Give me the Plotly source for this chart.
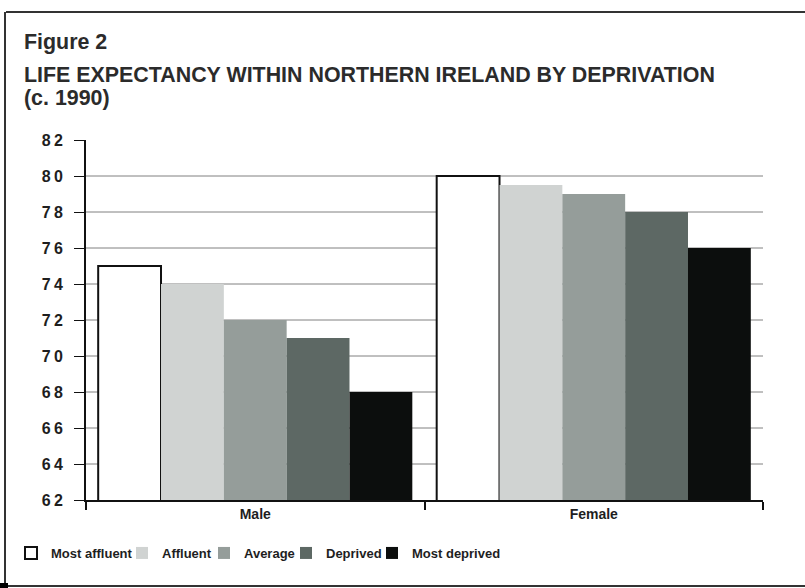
import plotly.graph_objects as go

# ---- data ----
categories = ["Male", "Female"]
series_names = ["Most affluent", "Affluent", "Average", "Deprived", "Most deprived"]
most_affluent = [75, 80]
affluent = [74, 79.5]
average = [72, 79]
deprived = [71, 78]
most_deprived = [68, 76]
y_ticks = [62, 64, 66, 68, 70, 72, 74, 76, 78, 80, 82]
grid_values = [64, 66, 68, 70, 72, 74, 76, 78, 80]

series_values = [most_affluent, affluent, average, deprived, most_deprived]
colors = ["#FFFFFF", "#D0D3D2", "#959D9A", "#5D6864", "#0C0E0D"]
legend_symbol_px = [31, 142, 224, 306, 392]   # legend entry positions (pixels)

W, H = 805, 588
L, R, T, B = 86, 42, 140, 88
PW = W - L - R
PH = H - T - B

def px_x(px):
    return (px - L) / PW

def px_y(py):
    return (H - B - py) / PH

TXT = "#1e1e1e"
BASE_FONT = "Liberation Sans, Arial, sans-serif"

fig = go.Figure()
legend_ids = ["legend", "legend2", "legend3", "legend4", "legend5"]
for name, vals, col, lid in zip(series_names, series_values, colors, legend_ids):
    fig.add_trace(go.Bar(
        name=name, x=categories, y=vals, legend=lid,
        marker=dict(color=col,
                    line=dict(color="#111111" if col == "#FFFFFF" else col,
                              width=2 if col == "#FFFFFF" else 0)),
    ))

def spaced(s):
    return "\u2009".join(list(s))

legend_layouts = {}
for lid, sx in zip(legend_ids, legend_symbol_px):
    legend_layouts[lid] = dict(
        orientation="h", x=px_x(sx - 20), xanchor="left",
        y=px_y(553), yanchor="middle",
        font=dict(family=BASE_FONT, size=13, color=TXT, weight="bold"),
        bgcolor="rgba(0,0,0,0)", itemclick=False)

fig.update_layout(
    width=W, height=H,
    margin=dict(l=L, r=R, t=T, b=B, autoexpand=False),
    paper_bgcolor="white", plot_bgcolor="white",
    barmode="group", bargap=0.072, bargroupgap=0,
    font=dict(family=BASE_FONT, color=TXT),
    showlegend=True,
    xaxis=dict(range=[-0.5, 1.5], showline=True, linecolor="#111111", linewidth=2,
               ticks="outside", tickson="boundaries", ticklen=8, tickwidth=2,
               tickcolor="#111111", showgrid=False,
               tickfont=dict(family=BASE_FONT, size=14, color=TXT, weight="bold")),
    yaxis=dict(range=[62, 82], tickvals=y_ticks, ticktext=[spaced(str(v)) for v in y_ticks],
               showline=True, linecolor="#111111", linewidth=2,
               ticks="outside", ticklen=10, tickwidth=1, tickcolor="#111111",
               showgrid=False, zeroline=False, ticklabelstandoff=8,
               tickfont=dict(family=BASE_FONT, size=16, color=TXT, weight="bold")),
    **legend_layouts,
)

# grid lines behind bars
for g in grid_values:
    fig.add_shape(type="line", xref="paper", yref="y", x0=0, x1=1, y0=g, y1=g,
                  line=dict(color="#808080", width=1), layer="below")

# frame
frame = dict(color="#333333", width=2)
fig.add_shape(type="line", xref="paper", yref="paper", x0=px_x(6), x1=px_x(805),
              y0=px_y(12), y1=px_y(12), line=frame)
fig.add_shape(type="line", xref="paper", yref="paper", x0=px_x(5), x1=px_x(5),
              y0=px_y(12), y1=px_y(586), line=frame)
fig.add_shape(type="line", xref="paper", yref="paper", x0=px_x(0), x1=px_x(805),
              y0=px_y(586), y1=px_y(586), line=frame)
fig.add_shape(type="rect", xref="paper", yref="paper", x0=px_x(0), x1=px_x(8),
              y0=px_y(583), y1=px_y(588), fillcolor="#000000", line=dict(width=0))

# titles
title_font = dict(family=BASE_FONT, size=21.4, color="#2b2b2b", weight="bold")
for txt, yc in [("Figure 2", 42), ("LIFE EXPECTANCY WITHIN NORTHERN IRELAND BY DEPRIVATION", 75),
                ("(c. 1990)", 98)]:
    fig.add_annotation(text=txt, xref="paper", yref="paper", x=px_x(22), y=px_y(yc),
                       xanchor="left", yanchor="middle", showarrow=False, font=title_font)

fig.write_html("out.html")
